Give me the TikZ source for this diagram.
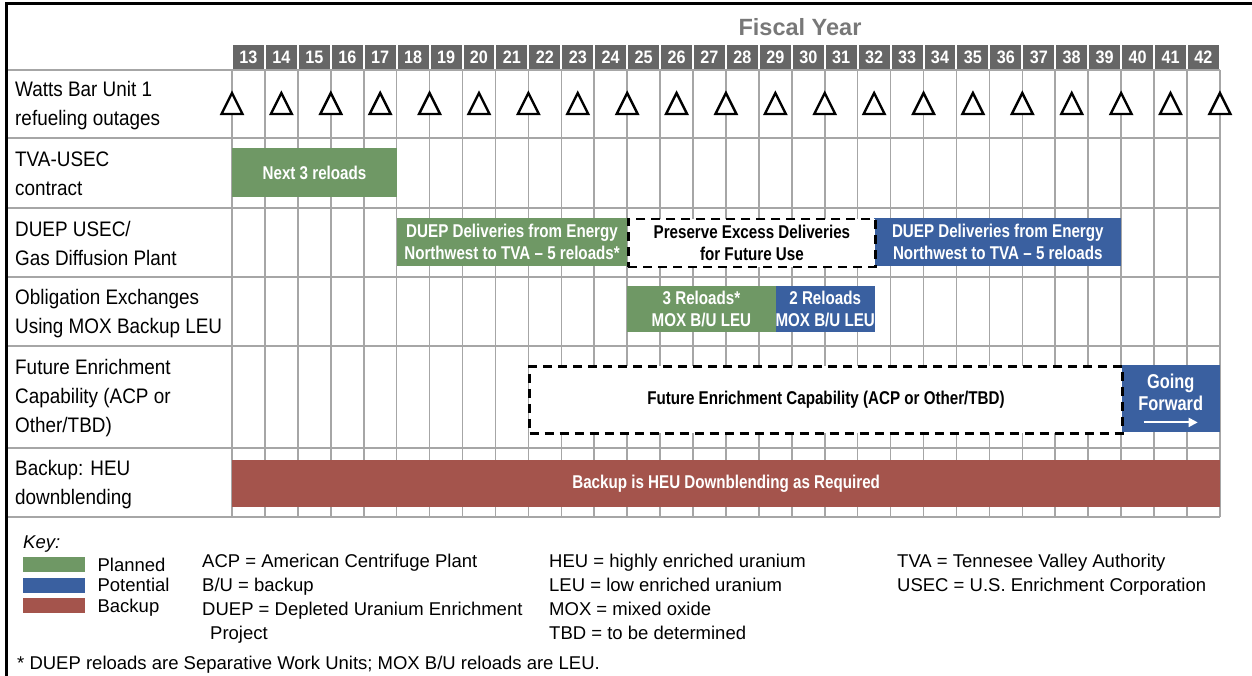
\documentclass[tikz,border=0pt]{standalone}
\usepackage{fontspec}
\setmainfont{Liberation Sans}
\newfontfamily\narrowsf{Liberation Sans}[FakeStretch=0.82,Ligatures=TeX]
\newfontfamily\labelsf{Liberation Sans}[FakeStretch=0.9,Ligatures=TeX]
\usetikzlibrary{calc,arrows.meta,positioning}
\definecolor{planned}{RGB}{111,152,101}
\definecolor{potential}{RGB}{58,96,160}
\definecolor{backup}{RGB}{164,84,76}
\definecolor{yeargray}{RGB}{102,102,102}
\definecolor{fiscalgray}{RGB}{120,120,120}
\definecolor{gridgray}{RGB}{166,166,166}

\begin{document}
\begin{tikzpicture}[x=1pt,y=-1pt,
  grid/.style={gridgray,line width=1.6pt},
  yearhead/.style={fill=yeargray,text=white,minimum width=30.9pt,minimum height=24pt,inner sep=0pt,font=\labelsf\bfseries\fontsize{18}{20}\selectfont},
  rowlabel/.style={anchor=west,align=left,inner sep=0pt,font=\labelsf\fontsize{21}{29}\selectfont},
  bar/.style={anchor=north west,inner sep=0pt,align=center,text=white,font=\narrowsf\bfseries\fontsize{18.5}{22}\selectfont},
  tbdbox/.style={bar,fill=white,text=black,draw=black,line width=2.5pt,dash pattern=on 9pt off 6pt},
  outage/.style={draw=black,line width=2.4pt,line join=miter,fill=white},
  key/.style={anchor=base west,inner sep=0pt,font=\fontsize{18.5}{22}\selectfont},
  swatch/.style={anchor=west,minimum width=62pt,minimum height=15pt,inner sep=0pt}]

  \useasboundingbox (0,0) rectangle (1252,676);

  % frame
  \draw[line width=3pt] (6.5,676) -- (6.5,4) -- (1252,4);

  \node[font=\bfseries\fontsize{23.5}{28}\selectfont,text=fiscalgray] (fy) at (800,27) {Fiscal Year};

  % grid
  \foreach \y in {70,138,208,277,346,448,517}
    \draw[grid] (8,\y) -- (1220,\y);
  \foreach \i in {0,...,30}
    \draw[grid] ({232+32.93*\i},70) -- ({232+32.93*\i},517);

  \foreach \n [count=\i from 0] in {13,...,42}
    \node[yearhead] (y\n) at ({232+32.93*(\i+0.5)},57) {\n};

  % row labels
  \node[rowlabel] (watts) at (15,106) {Watts Bar Unit 1\\refueling outages};
  \node[rowlabel] (tva) at (15,174) {TVA-USEC\\contract};
  \node[rowlabel] (gdp) at (15,243.5) {DUEP USEC/\\Gas Diffusion Plant};
  \node[rowlabel] (oblig) at (15,313.5) {Obligation Exchanges\\Using MOX Backup LEU};
  \node[rowlabel] (fec) at (15,398.5) {Future Enrichment\\Capability (ACP or\\Other/TBD)};
  \node[rowlabel] (down) at (15,484.5) {Backup: HEU\\downblending};

  % refueling outages
  \foreach \k in {0,...,20}
    \draw[outage] ({232+49.395*\k},93) -- ++(10.5,21) -- ++(-21,0) -- cycle;

  % bars
  \node[bar,fill=planned,minimum width=164.6pt,minimum height=49pt] (next) at (232,148) {Next 3 reloads};
  \node[bar,fill=planned,minimum width=230.5pt,minimum height=48pt] (duepg) at (396.6,218) {DUEP Deliveries from Energy\\Northwest to TVA \textendash\ 5 reloads*};
  \node[bar,fill=potential,minimum width=247pt,minimum height=48pt] (duepb) at (874.1,218) {DUEP Deliveries from Energy\\Northwest to TVA \textendash\ 5 reloads};
  \node[tbdbox,minimum width=246.9pt,minimum height=48pt] (preserve) at (627.2,218) {Preserve Excess Deliveries\\for Future Use};
  \node[bar,fill=planned,minimum width=148.1pt,minimum height=46pt] (mox3) at (627.2,286) {3 Reloads*\\MOX B/U LEU};
  \node[bar,fill=potential,minimum width=98.8pt,minimum height=46pt] (mox2) at (775.3,286) {2 Reloads\\MOX B/U LEU};
  \node[bar,fill=potential,minimum width=98.8pt,minimum height=67pt] (going) at (1121.1,365) {};
  \node[tbdbox,minimum width=592.7pt,minimum height=67pt] (future) at (528.4,365) {Future Enrichment Capability (ACP or Other/TBD)};
  \node[bar,fill=backup,minimum width=987.9pt,minimum height=47pt] (heu) at (232,460) {Backup is HEU Downblending as Required};

  \node[bar,anchor=center,font=\narrowsf\bfseries\fontsize{20}{22.5}\selectfont] (goingtxt) at ($(going.center)+(0,-6.5)$) {Going\\Forward};
  \draw[white,line width=2pt,-{Triangle[length=9pt,width=9pt]}] ($(going.south)+(-27,-10)$) -- ($(going.south)+(27,-10)$);

  % key
  \node[key,font=\itshape\fontsize{18.5}{22}\selectfont] (keyhd) at (23,548) {Key:};
  \node[swatch,fill=planned] (swg) at (23,564.5) {};
  \node[swatch,fill=potential] (swb) at (23,585) {};
  \node[swatch,fill=backup] (swr) at (23,605.5) {};
  \node[key] (planned) at ($(swg.east)+(12,6.5)$) {Planned};
  \node[key] (potential) at ($(swb.east)+(12,6.5)$) {Potential};
  \node[key] (backupk) at ($(swr.east)+(12,6.5)$) {Backup};

  \node[key] (acp) at (202,567) {ACP = American Centrifuge Plant};
  \node[key] (bu) at (202,591) {B/U = backup};
  \node[key] (duep) at (202,615) {DUEP = Depleted Uranium Enrichment};
  \node[key] (proj) at (210,639) {Project};
  \node[key] (heuk) at (549,567) {HEU = highly enriched uranium};
  \node[key] (leu) at (549,591) {LEU = low enriched uranium};
  \node[key] (mox) at (549,615) {MOX = mixed oxide};
  \node[key] (tbd) at (549,639) {TBD = to be determined};
  \node[key] (tvak) at (897,567) {TVA = Tennesee Valley Authority};
  \node[key] (usec) at (897,591) {USEC = U.S. Enrichment Corporation};

  \node[key] (foot) at (17,669) {* DUEP reloads are Separative Work Units; MOX B/U reloads are LEU.};

\end{tikzpicture}
\end{document}
